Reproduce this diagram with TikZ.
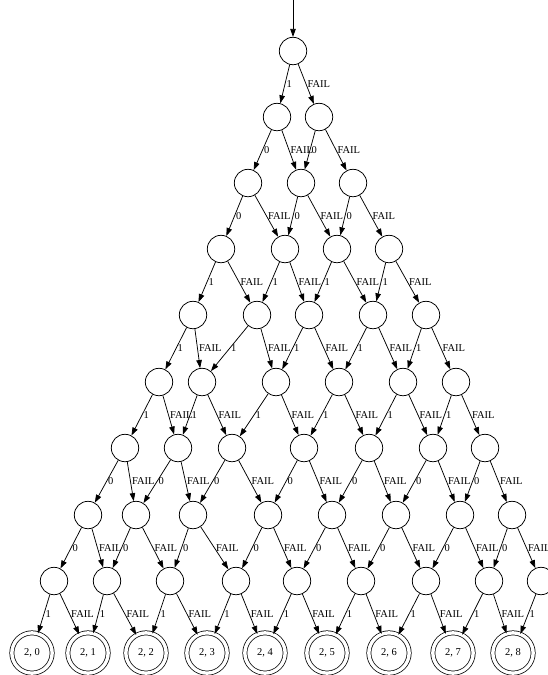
\documentclass[tikz,border=0pt]{standalone}
\usepackage{fontspec}
\setmainfont{Liberation Serif}
\usetikzlibrary{arrows.meta}

\begin{document}
\begin{tikzpicture}[x=1pt, y=-1pt, font=\fontsize{10.5}{12}\selectfont, line width=0.75pt, line join=round, >={Triangle[length=8pt,width=5.5pt]},
	st/.style={draw, circle, minimum size=27.4pt, inner sep=0pt},
	fin/.style={draw, circle, double, double distance=3.4pt, minimum size=40.3pt, inner sep=0pt},
	lbl/.style={midway, anchor=west, inner sep=1.2pt}]
	\useasboundingbox (0,0) rectangle (548,675);
	% states, row by row
	\foreach \x [count=\j from 0] in {293} \node[st] (n1-\j) at (\x,51) {};
	\foreach \x [count=\j from 0] in {277,319} \node[st] (n2-\j) at (\x,117) {};
	\foreach \x [count=\j from 0] in {248,301,353} \node[st] (n3-\j) at (\x,183) {};
	\foreach \x [count=\j from 0] in {221,285,337,389} \node[st] (n4-\j) at (\x,249) {};
	\foreach \x [count=\j from 0] in {193,257,309,373,426} \node[st] (n5-\j) at (\x,315) {};
	\foreach \x [count=\j from 0] in {159,202,276,339,403,456} \node[st] (n6-\j) at (\x,382) {};
	\foreach \x [count=\j from 0] in {125,178,232,304,369,433,485} \node[st] (n7-\j) at (\x,448) {};
	\foreach \x [count=\j from 0] in {88,136,193,268,332,396,460,512} \node[st] (n8-\j) at (\x,515) {};
	\foreach \x [count=\j from 0] in {54,107,170,236,297,361,426,489,541} \node[st] (n9-\j) at (\x,581) {};
	\foreach \x [count=\j from 0] in {32,88,146,207,265,327,389,453,513} \node[fin] (f-\j) at (\x,653) {2, \j};
	% start
	\coordinate (start) at (293,0);
	\draw[->] (start) -- (n1-0);
	% transitions
	\foreach \r/\b in {1/1,2/0,3/0,4/1,5/1,6/1,7/0,8/0} {
		\pgfmathtruncatemacro\s{\r+1}
		\pgfmathtruncatemacro\m{\r-1}
		\foreach \j in {0,...,\m} {
			\pgfmathtruncatemacro\k{\j+1}
			\draw[->] (n\r-\j) -- node[lbl] {\b} (n\s-\j);
			\draw[->] (n\r-\j) -- node[lbl] {FAIL} (n\s-\k);
		}
	}
	\foreach \j in {0,...,8} \draw[->] (n9-\j) -- node[lbl] {1} (f-\j);
	\foreach \j/\k in {0/1,1/2,2/3,3/4,4/5,5/6,6/7,7/8} \draw[->] (n9-\j) -- node[lbl] {FAIL} (f-\k);
\end{tikzpicture}
\end{document}
